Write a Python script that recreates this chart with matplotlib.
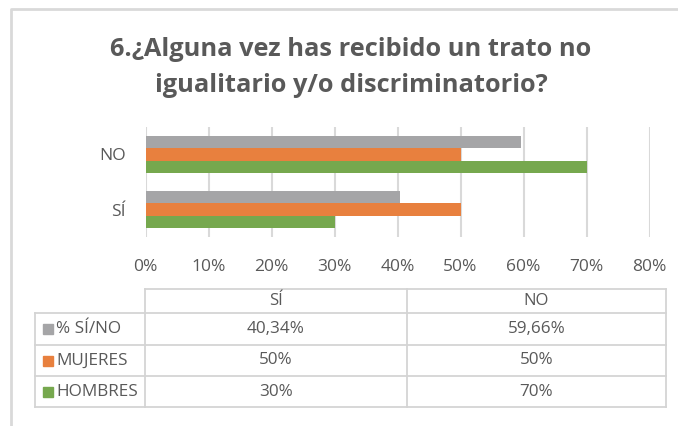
import matplotlib
matplotlib.use('Agg')
import matplotlib.pyplot as plt
from matplotlib.patches import Rectangle

plt.rcParams['font.family'] = ['Open Sans', 'DejaVu Sans']

# Data
categories = ['SÍ', 'NO']
series_names = ['% SÍ/NO', 'MUJERES', 'HOMBRES']
pct_si_no = [40.34, 59.66]
mujeres = [50, 50]
hombres = [30, 70]
colors = ['#A5A5A7', '#E8803E', '#76A84E']
xticks = [0, 10, 20, 30, 40, 50, 60, 70, 80]

series = [pct_si_no, mujeres, hombres]
text_col = '#595959'
grid_col = '#D9D9D9'

fig = plt.figure(figsize=(6.78, 4.26), dpi=100)
W, H = 678, 426

# bar chart area
ax = fig.add_axes([145.5 / W, 1 - 237 / H, 504 / W, 110 / H])
bh = 0.22
offsets = [bh, 0, -bh]  # gray on top, green at bottom
for vals, off, c in zip(series, offsets, colors):
    ax.barh([i + off for i in range(len(categories))], vals, height=bh, color=c, zorder=3)
ax.set_xlim(0, 80)
ax.set_ylim(-0.5, 1.5)
ax.set_xticks(xticks)
ax.set_xticklabels([f'{t}%' for t in xticks])
ax.set_yticks(range(len(categories)))
ax.set_yticklabels(categories)
ax.tick_params(axis='both', length=0, colors=text_col, labelsize=12.5)
ax.tick_params(axis='x', pad=16)
ax.tick_params(axis='y', pad=14)
ax.grid(axis='x', color=grid_col, linewidth=1.5, zorder=0)
for s in ax.spines.values():
    s.set_visible(False)

# overlay for frame, title and data table
ov = fig.add_axes([0, 0, 1, 1], zorder=-1)
ov.set_xlim(0, W)
ov.set_ylim(H, 0)
ov.axis('off')
ov.plot([11, 11, W], [H, 9, 9], color='#D9D9D9', linewidth=2)

fig.text(351 / W, 1 - 49 / H, '6.¿Alguna vez has recibido un trato no', ha='center', va='center',
         fontsize=18.3, fontweight='bold', color=text_col)
fig.text(351 / W, 1 - 85 / H, 'igualitario y/o discriminatorio?', ha='center', va='center',
         fontsize=18.3, fontweight='bold', color=text_col)

# table
x_left, x_lab, x_mid, x_right = 35, 145, 407, 666
rows_y = [289, 313, 345, 376, 407]
lc = '#D4D4D4'
lw = 1.3
ov.plot([x_lab, x_right], [rows_y[0], rows_y[0]], color=lc, lw=lw)
for y in rows_y[1:]:
    ov.plot([x_left, x_right], [y, y], color=lc, lw=lw)
ov.plot([x_left, x_left], [rows_y[1], rows_y[-1]], color=lc, lw=lw)
for x in (x_lab, x_mid, x_right):
    ov.plot([x, x], [rows_y[0], rows_y[-1]], color=lc, lw=lw)

col_centers = [(x_lab + x_mid) / 2, (x_mid + x_right) / 2]


def fmt(v):
    if float(v).is_integer():
        return f'{int(v)}%'
    return f'{v:.2f}%'.replace('.', ',')


hy = (rows_y[0] + rows_y[1]) / 2
for cx, cat in zip(col_centers, categories):
    ov.text(cx, hy, cat, ha='center', va='center', fontsize=12, color=text_col)

for r, (name, vals, c) in enumerate(zip(series_names, series, colors)):
    cy = (rows_y[r + 1] + rows_y[r + 2]) / 2
    ov.add_patch(Rectangle((43, cy - 5), 10, 10, color=c))
    ov.text(56, cy, name, ha='left', va='center', fontsize=12.3, color=text_col)
    for cx, v in zip(col_centers, vals):
        ov.text(cx, cy, fmt(v), ha='center', va='center', fontsize=12.3, color=text_col)

fig.savefig('out.png', dpi=100)
